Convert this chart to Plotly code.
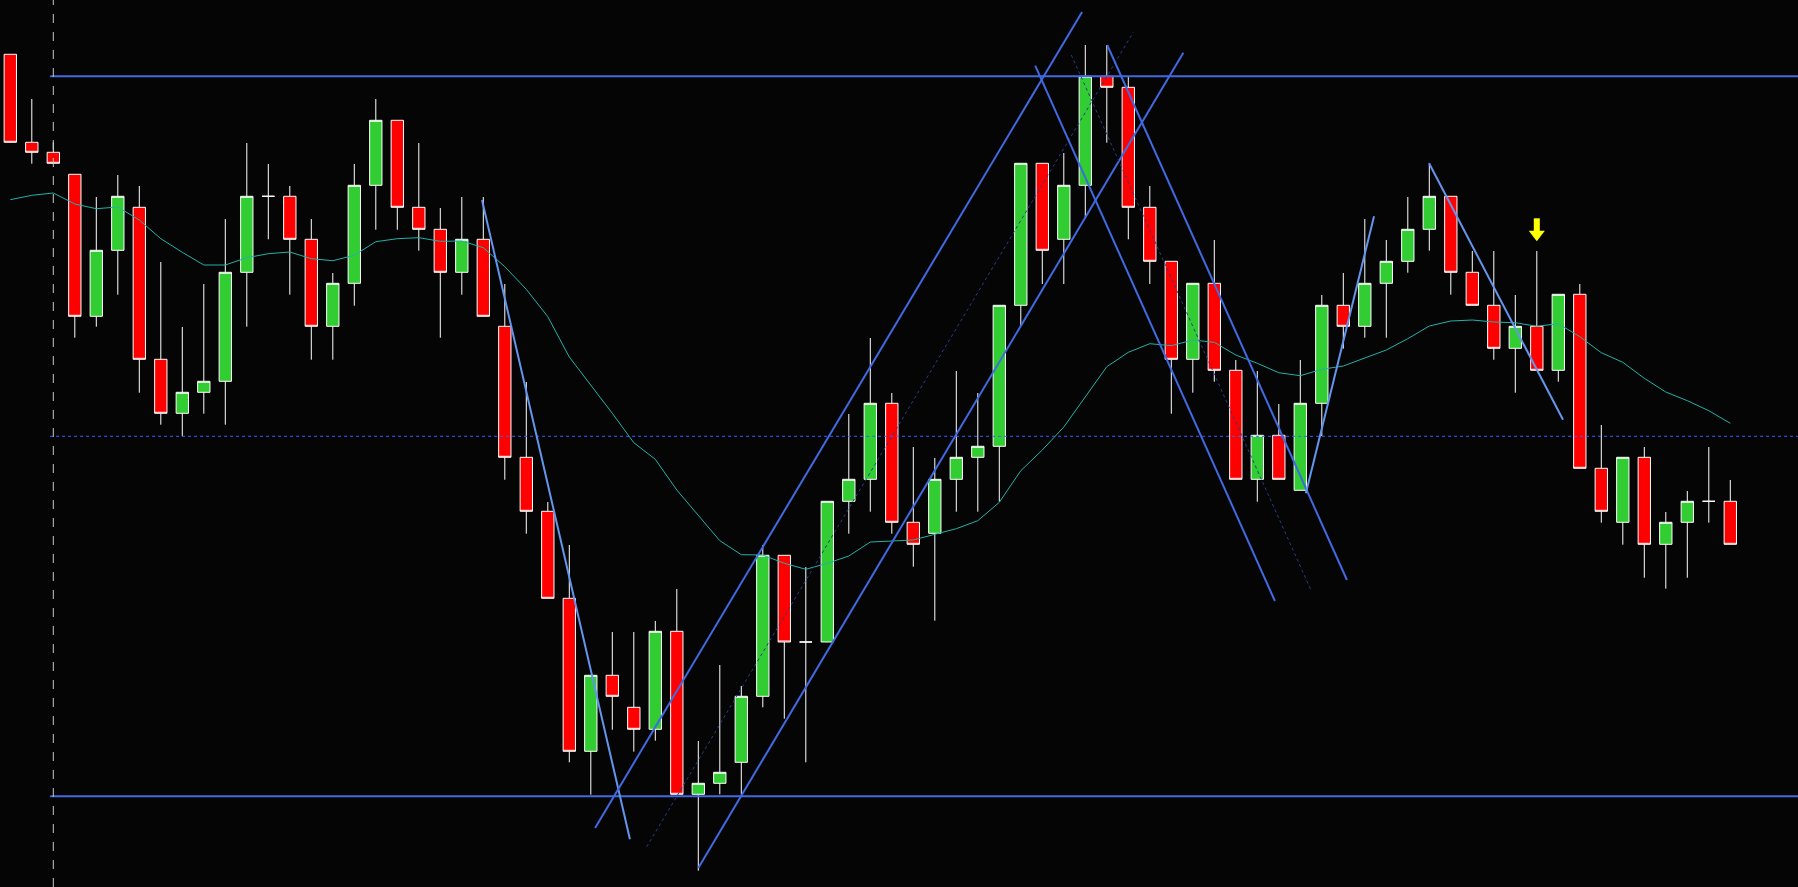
import plotly.graph_objects as go

# bar index (time axis) and OHLC prices
bars = list(range(81))

open_ = [832.7, 744.7, 734.7, 712.7, 570.7, 636.7, 679.7, 527.7, 473.7, 494.7,
         505.7, 614.7, 690.7, 690.7, 647.7, 560.7, 603.7, 701.7, 766.7, 679.7,
         657.7, 614.7, 647.7, 560.7, 429.7, 375.7, 288.7, 135.7, 211.7, 179.7,
         157.7, 255.7, 92.7, 103.7, 124.7, 190.7, 331.7, 245.0, 245.0, 385.7,
         407.7, 483.7, 364.7, 353.7, 407.7, 429.7, 440.7, 581.7, 723.7, 647.7,
         701.7, 810.7, 799.7, 679.7, 625.7, 527.7, 603.7, 516.7, 407.7, 451.7,
         396.7, 483.7, 581.7, 560.7, 603.7, 625.7, 657.7, 690.7, 614.7, 581.7,
         538.7, 560.7, 516.7, 592.7, 418.7, 364.7, 429.7, 342.7, 364.7, 385.7, 385.7]

high = [832.7, 788.0, 744.7, 712.7, 690.0, 712.0, 701.0, 625.0, 560.0, 603.0,
        668.0, 744.0, 723.0, 701.0, 668.0, 614.0, 723.0, 788.0, 766.7, 744.0,
        679.0, 690.0, 690.0, 603.0, 505.0, 385.0, 342.0, 211.7, 255.0, 255.0,
        266.0, 298.0, 146.0, 222.0, 201.0, 342.0, 331.7, 320.0, 385.7, 473.0,
        549.0, 494.0, 440.0, 429.0, 516.0, 494.0, 581.7, 723.7, 723.7, 734.0,
        842.0, 842.0, 810.7, 701.0, 625.7, 603.7, 647.0, 527.0, 516.0, 483.0,
        527.0, 592.0, 614.0, 668.0, 647.0, 690.0, 723.7, 690.7, 636.0, 636.0,
        592.0, 636.0, 592.7, 603.0, 462.0, 429.7, 440.0, 375.0, 396.0, 440.0, 407.0]

low = [744.7, 723.3, 723.7, 549.3, 560.3, 592.3, 494.3, 462.3, 450.7, 473.3,
       462.3, 560.3, 647.7, 592.3, 527.3, 527.3, 581.3, 657.3, 657.3, 636.3,
       549.3, 592.3, 570.7, 407.3, 353.3, 288.7, 124.7, 92.3, 157.3, 135.3,
       146.3, 92.7, 16.3, 92.7, 92.7, 179.7, 168.3, 124.7, 245.0, 353.3,
       375.3, 353.3, 320.3, 266.3, 375.3, 375.3, 385.3, 561.0, 603.0, 603.0,
       669.7, 744.3, 647.7, 603.0, 473.3, 494.3, 505.3, 407.7, 385.3, 407.7,
       396.7, 451.0, 538.3, 549.3, 549.3, 614.3, 636.3, 592.3, 581.7, 527.3,
       494.3, 516.7, 505.3, 418.7, 364.3, 342.3, 309.3, 298.3, 309.3, 364.3, 342.7]

close = [744.7, 734.7, 723.7, 570.7, 636.7, 690.7, 527.7, 473.7, 494.7, 505.7,
         614.7, 690.7, 690.7, 647.7, 560.7, 603.7, 701.7, 766.7, 679.7, 657.7,
         614.7, 647.7, 570.7, 429.7, 375.7, 288.7, 135.7, 211.7, 190.7, 157.7,
         255.7, 92.7, 103.7, 114.7, 190.7, 331.7, 245.0, 245.0, 385.7, 407.7,
         483.7, 364.7, 342.7, 407.7, 429.7, 440.7, 581.7, 723.7, 636.7, 701.7,
         810.7, 799.7, 679.7, 625.7, 527.7, 603.7, 516.7, 407.7, 451.7, 407.7,
         483.7, 581.7, 560.7, 603.7, 625.7, 657.7, 690.7, 614.7, 581.7, 538.7,
         560.7, 516.7, 592.7, 418.7, 375.7, 429.7, 342.7, 364.7, 385.7, 385.7, 342.7]

# moving average line, read at each bar
moving_avg = [687.3, 691.7, 694.0, 683.0, 678.3, 680.0, 667.0, 648.3, 634.7, 622.0,
              622.0, 629.3, 633.3, 635.0, 628.3, 626.3, 631.7, 645.3, 648.3, 649.3,
              645.7, 646.0, 639.3, 620.3, 597.7, 570.3, 530.0, 502.0, 473.7, 444.3,
              427.7, 397.0, 372.0, 346.3, 332.3, 332.0, 323.7, 317.7, 323.7, 331.0,
              345.0, 346.0, 347.0, 352.7, 358.3, 366.3, 384.7, 416.3, 437.0, 460.0,
              490.3, 520.3, 534.7, 543.3, 541.3, 547.0, 544.7, 532.0, 523.7, 514.3,
              511.3, 517.7, 521.0, 529.0, 537.0, 548.3, 561.0, 566.0, 567.0, 565.0,
              564.3, 560.7, 563.3, 550.3, 534.3, 524.7, 508.7, 495.0, 486.3, 476.3, 463.7]

# horizontal levels
level_solid = [810.7, 90.7]
level_dotted = 450.7
level_start = 1.85
marker_bar = 2

# trend lines: start/end (bar, price) and style group
trend_x0 = [21.94, 27.20, 32.00, 29.60, 47.67, 51.02, 49.35, 60.26, 65.99]
trend_p0 = [687.0, 59.1, 19.0, 40.3, 821.3, 842.0, 832.0, 393.7, 723.7]
trend_x1 = [28.82, 49.85, 54.56, 52.23, 58.82, 62.17, 60.50, 63.43, 72.22]
trend_p1 = [47.7, 875.0, 834.3, 854.7, 286.0, 307.0, 296.7, 670.7, 467.3]
trend_kind = ["light", "main", "main", "mid", "main", "main", "mid", "light", "light"]

# sell signal arrow
signal_bar = 71
signal_top = 668.7
signal_tip = 647.7

BG = "#050505"
styles = {
    "main": dict(color="#4169E1", width=2),
    "light": dict(color="#6495ED", width=2),
    "mid": dict(color="#263c8a", width=1, dash="dot"),
}

fig = go.Figure()

fig.add_trace(go.Candlestick(
    x=bars, open=open_, high=high, low=low, close=close,
    increasing=dict(fillcolor="#32CD32", line=dict(color="white", width=1)),
    decreasing=dict(fillcolor="#FF0000", line=dict(color="white", width=1)),
    whiskerwidth=0,
))

fig.add_trace(go.Scatter(x=bars, y=moving_avg, mode="lines",
                         line=dict(color="#20B2AA", width=1)))

for lvl in level_solid:
    fig.add_trace(go.Scatter(x=[level_start, 90], y=[lvl, lvl], mode="lines",
                             line=dict(color="#4169E1", width=2)))
fig.add_trace(go.Scatter(x=[level_start, 90], y=[level_dotted, level_dotted], mode="lines",
                         line=dict(color="#3d5cff", width=1, dash="dot")))

for x0, p0, x1, p1, kind in zip(trend_x0, trend_p0, trend_x1, trend_p1, trend_kind):
    fig.add_trace(go.Scatter(x=[x0, x1], y=[p0, p1], mode="lines", line=styles[kind]))

fig.add_vline(x=marker_bar, line=dict(color="#c8c8c8", width=1, dash="dash"))

fig.add_trace(go.Scatter(x=[signal_bar, signal_bar], y=[signal_top, signal_tip + 8],
                         mode="lines", line=dict(color="#FFFF00", width=6)))
fig.add_trace(go.Scatter(x=[signal_bar], y=[signal_tip + 5], mode="markers",
                         marker=dict(symbol="triangle-down", size=14, color="#FFFF00",
                                     line=dict(width=0))))

fig.update_layout(
    width=1798, height=887,
    margin=dict(l=0, r=0, t=0, b=0),
    paper_bgcolor=BG, plot_bgcolor=BG,
    showlegend=False,
    boxgap=0.3, boxgroupgap=0.18,
    xaxis=dict(range=[-0.479, 83.149], visible=False, showgrid=False,
               rangeslider=dict(visible=False), fixedrange=True),
    yaxis=dict(range=[0, 887], visible=False, showgrid=False, fixedrange=True),
)

fig.write_html("out.html", config={"displayModeBar": False},
               post_script="document.body.style.margin='0';")
